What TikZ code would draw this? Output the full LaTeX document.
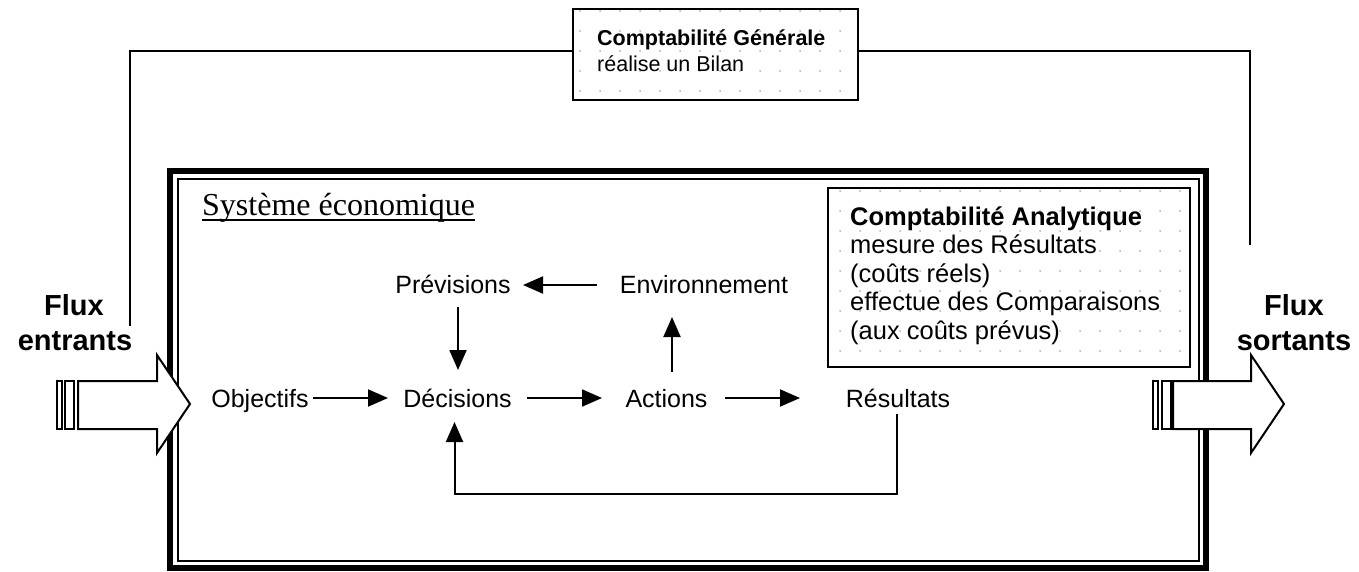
\documentclass[tikz,border=0pt]{standalone}
\usepackage{fontspec}
\setmainfont{Liberation Sans}
\newfontfamily\timesf{Liberation Serif}
\usetikzlibrary{arrows.meta,patterns.meta,calc}
\begin{document}
\begin{tikzpicture}[x=1pt,y=-1pt,
  txt/.style={font=\fontsize{25}{28}\selectfont, inner sep=0pt, anchor=base},
  boxtxt/.style={font=\fontsize{25.5}{28.5}\selectfont, inner sep=0pt, anchor=base west},
  gentxt/.style={font=\fontsize{21.5}{26}\selectfont, inner sep=0pt, anchor=base west},
  fluxtxt/.style={font=\fontsize{29}{35}\selectfont\bfseries, inner sep=0pt, anchor=base, align=center},
  conn/.style={line width=2pt, -{Triangle[length=20pt,width=17pt]}},
  plain/.style={line width=2pt},
  dotbox/.style={draw, line width=2pt, inner sep=0pt, pattern={Dots[distance=20pt,radius=1pt]}, pattern color=black!30},
  bigarrow/.style={draw, line width=2pt, fill=white, line join=miter}
]
\fill[white] (0,0) rectangle (1359,571);
\useasboundingbox (0,0) rectangle (1359,571);

% top box
\node[dotbox, minimum width=285pt, minimum height=91pt] (gen) at (715.5,54.5) {};
\node[gentxt] (gen1) at (597,45) {\bfseries Comptabilité Générale};
\node[gentxt] (gen2) at (597,71) {réalise un Bilan};

% feedback outer lines
\coordinate (lend) at (130,326);
\coordinate (rend) at (1250,245);
\draw[plain] ($(gen.west)+(0,-4)$) -| (lend);
\draw[plain] ($(gen.east)+(0,-4)$) -| (rend);

% system frame
\draw[line width=6pt] (170,171) rectangle (1206,568);
\draw[line width=2pt] (178,179) rectangle (1199,561);

% system label
\node[font=\timesf\fontsize{32}{38}\selectfont, inner sep=0pt, anchor=base west] (sys) at (202,215) {Système économique};
\draw[line width=1.5pt] ($(sys.base west)+(0,5)$) -- ($(sys.base east)+(0,5)$);

% analytique box
\node[dotbox, minimum width=362pt, minimum height=179pt] (ana) at (1009,277.5) {};
\node[boxtxt] (a1) at (850,225) {\bfseries Comptabilité Analytique};
\node[boxtxt] (a2) at (850,253.5) {mesure des Résultats};
\node[boxtxt] (a3) at (850,282) {(coûts réels)};
\node[boxtxt] (a4) at (850,310.5) {effectue des Comparaisons};
\node[boxtxt] (a5) at (850,339) {(aux coûts prévus)};

% flow nodes
\node[txt] (obj) at (260,407) {Objectifs};
\node[txt] (dec) at (457.5,407) {Décisions};
\node[txt] (act) at (666.5,407) {Actions};
\node[txt] (res) at (898,407) {Résultats};
\node[txt] (prev) at (453,293) {Prévisions};
\node[txt] (env) at (704,293) {Environnement};

\draw[conn] ($(obj.base)+(53,-9)$) -- ($(dec.base)+(-69.5,-9)$);
\draw[conn] ($(dec.base)+(69.5,-9)$) -- ($(act.base)+(-64.5,-9)$);
\draw[conn] ($(act.base)+(58.5,-9)$) -- ($(res.base)+(-98,-9)$);
\draw[conn] ($(env.base)+(-107,-8)$) -- ($(prev.base)+(70,-8)$);
\draw[conn] ($(prev.base)+(5,14)$) -- ($(dec.base)+(0.5,-37)$);
\draw[conn] ($(act.base)+(5.5,-35)$) -- ($(env.base)+(-32,24)$);
\draw[conn] ($(res.base)+(-1,7)$) -- ++(0,80) -| ($(dec.base)+(-3,15)$);

% big flux arrows
\draw[bigarrow] (57,381) rectangle (62,429);
\draw[bigarrow] (65,381) rectangle (74,429);
\draw[bigarrow] (78,381) -- (157,381) -- (157,355) -- (190,404) -- (157,453) -- (157,429) -- (78,429) -- cycle;
\draw[bigarrow] (1153,381) rectangle (1158,429);
\draw[bigarrow] (1162,381) rectangle (1171,429);
\draw[bigarrow] (1173,381) -- (1251,381) -- (1251,355) -- (1284,404) -- (1251,453) -- (1251,429) -- (1173,429) -- cycle;

% flux labels
\node[fluxtxt] (fin1) at (74,315) {Flux};
\node[fluxtxt] (fin2) at (75,350) {entrants};
\node[fluxtxt] (fout1) at (1294,315) {Flux};
\node[fluxtxt] (fout2) at (1294,350) {sortants};
\end{tikzpicture}
\end{document}
